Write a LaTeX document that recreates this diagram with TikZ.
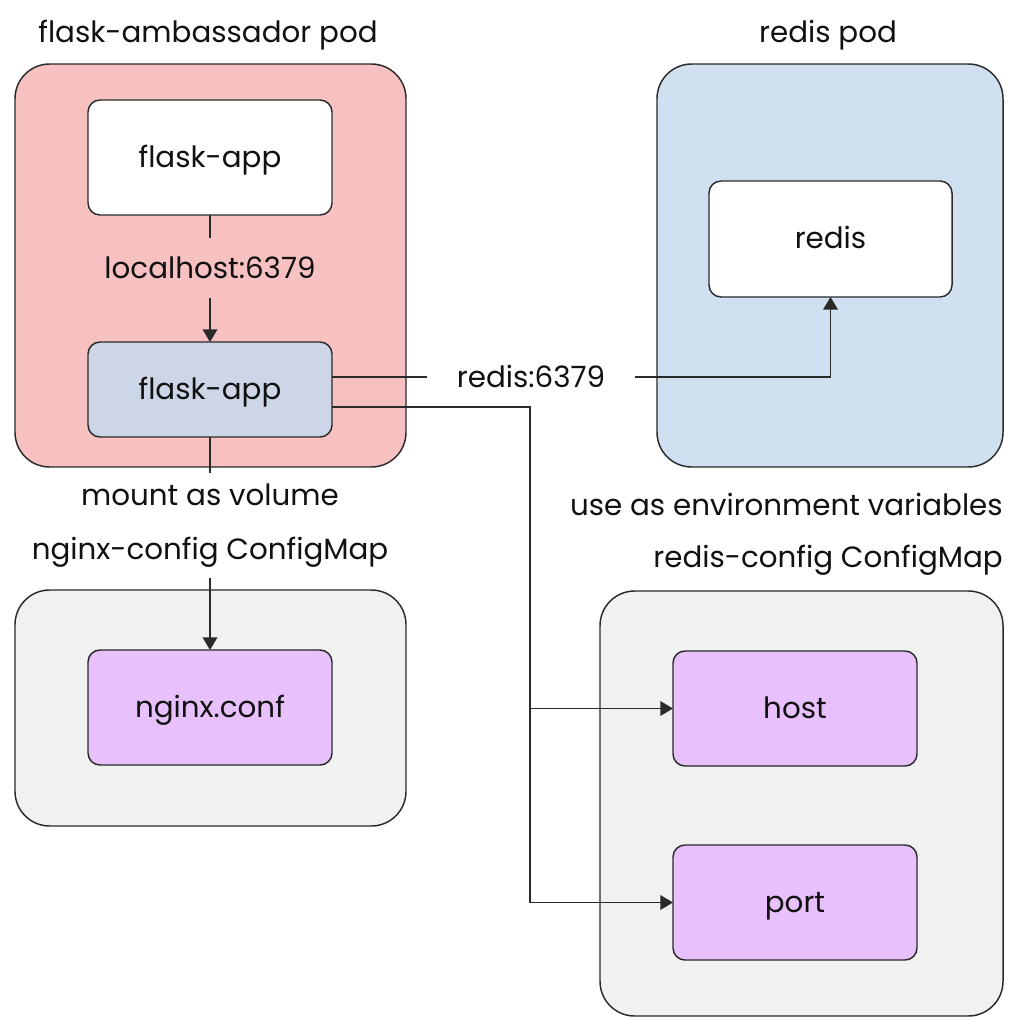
\documentclass[tikz,border=0pt]{standalone}
\usepackage{fontspec}
\setmainfont{Poppins}
\usetikzlibrary{arrows.meta}
\definecolor{pinkc}{HTML}{F7C1C1}
\definecolor{bluec}{HTML}{D0E0F1}
\definecolor{greyc}{HTML}{F1F1F1}
\definecolor{purpc}{HTML}{E8C1FC}
\definecolor{fa2c}{HTML}{CCD6E6}
\definecolor{linec}{HTML}{2A2A2A}
\definecolor{textc}{HTML}{111111}
\begin{document}
\begin{tikzpicture}[x=0.75pt,y=-0.75pt,
  every node/.style={font=\fontsize{22}{26}\selectfont, text=textc, text height=19.5pt, text depth=4.5pt},
  cluster/.style={draw=linec, line width=1.1pt, rounded corners=26pt, inner sep=0pt, outer sep=0pt},
  box/.style={draw=linec, line width=1.1pt, rounded corners=9pt, minimum width=183pt, minimum height=86.25pt, inner sep=0pt, outer sep=0pt},
  conn/.style={draw=linec, line width=1.1pt},
  arr/.style={conn, -{Triangle[length=9.5pt,width=11pt]}},
  lbl/.style={inner sep=0pt}]
\useasboundingbox (0,0) rectangle (1018,1030);
% clusters
\node[cluster, fill=pinkc, minimum width=293.25pt, minimum height=302.25pt] (fpod) at (210.5,265.5) {};
\node[cluster, fill=bluec, minimum width=259.5pt, minimum height=302.25pt] (rpod) at (830,265.5) {};
\node[cluster, fill=greyc, minimum width=293.25pt, minimum height=177pt] (ncm) at (210.5,708) {};
\node[cluster, fill=greyc, minimum width=302.25pt, minimum height=318.75pt] (rcm) at (801.5,803.5) {};
% titles
\node[lbl] (ftitle) at (208,33) {flask-ambassador pod};
\node[lbl] (rtitle) at (828,33) {redis pod};
\node[lbl] (ntitle) at (210,549) {nginx-config ConfigMap};
\node[lbl, anchor=east] (rctitle) at (1003,557) {redis-config ConfigMap};
% boxes
\node[box, fill=white] (fa1) at (210,157.5) {flask-app};
\node[box, fill=fa2c, minimum height=71.25pt] (fa2) at (210,389.5) {flask-app};
\node[box, fill=white, minimum width=182.25pt, minimum height=87pt] (redis) at (830.5,239) {redis};
\node[box, fill=purpc] (nconf) at (210,707.5) {nginx.conf};
\node[box, fill=purpc] (host) at (795,708.5) {host};
\node[box, fill=purpc] (port) at (795,902.5) {port};
% edge labels
\node[lbl, fill=pinkc, minimum height=44pt] (lh) at (210,268) {localhost:6379};
\node[lbl, fill=white, minimum width=156pt] (rl) at (531,377) {redis:6379};
\node[lbl] (mv) at (210,495) {mount as volume};
\node[lbl, anchor=east] (env) at (1003,505) {use as environment variables};
% coordinates
\coordinate (mvtop) at (210,473);
\coordinate (ntbot) at (210,578);
\coordinate (j1) at (530,708.5);
% connectors
\draw[conn] (fa1.south) -- (lh.north);
\draw[arr] (lh.south) -- (fa2.north);
\draw[conn] ([yshift=9.375pt]fa2.east) -- (rl.west);
\draw[arr] (rl.east) -| (redis.south);
\draw[conn] ([yshift=-13.125pt]fa2.east) -| (j1);
\draw[arr] (j1) -- (host.west);
\draw[arr] (j1) |- (port.west);
\draw[conn] (fa2.south) -- (mvtop);
\draw[arr] (ntbot) -- (nconf.north);
\end{tikzpicture}
\end{document}
